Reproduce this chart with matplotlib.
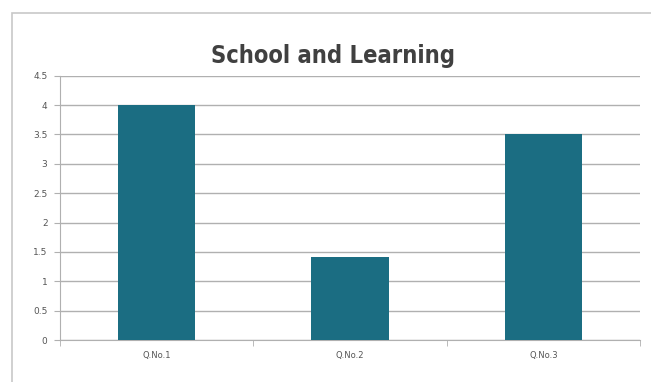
import matplotlib
matplotlib.use("Agg")
import matplotlib.pyplot as plt
from matplotlib.patches import Rectangle
from matplotlib.ticker import FixedLocator
import numpy as np

categories = ["Q.No.1", "Q.No.2", "Q.No.3"]
values = [4.0, 1.42, 3.5]
yticks = [0, 0.5, 1, 1.5, 2, 2.5, 3, 3.5, 4, 4.5]
ytick_labels = ["0", "0.5", "1", "1.5", "2", "2.5", "3", "3.5", "4", "4.5"]
title = "School and Learning"

W, H = 651, 382
fig = plt.figure(figsize=(W / 100, H / 100), dpi=100)
fig.patch.set_facecolor("white")

# outer chart border
fig.patches.append(Rectangle((12 / W, -0.1), 1.2, (H - 13) / H + 0.1,
                             transform=fig.transFigure, fill=False,
                             edgecolor="#c8c8c8", linewidth=1.2))

ax = fig.add_axes([60 / W, (H - 340) / H, (640 - 60) / W, (340 - 75.7) / H])
x = np.arange(len(categories))
ax.bar(x, values, width=0.4, color="#1b6d82", zorder=3)
ax.set_xlim(-0.5, len(categories) - 0.5)
ax.set_ylim(0, 4.5)
ax.set_yticks(yticks)
ax.set_yticklabels(ytick_labels)
ax.yaxis.grid(True, color="#b0b0b0", linewidth=1.0, zorder=0)
ax.set_axisbelow(True)

ax.xaxis.set_major_locator(FixedLocator(x))
ax.set_xticklabels(categories)
ax.xaxis.set_minor_locator(FixedLocator([-0.5, 0.5, 1.5, 2.5]))
ax.tick_params(axis="x", which="major", length=0, pad=8, labelsize=6, labelcolor="#555555")
ax.tick_params(axis="x", which="minor", length=4, color="#b0b0b0", direction="out")
ax.tick_params(axis="y", length=4, color="#b0b0b0", pad=5, labelsize=6.5, labelcolor="#555555")

for s in ["top", "right"]:
    ax.spines[s].set_visible(False)
ax.spines["left"].set_color("#b0b0b0")
ax.spines["bottom"].set_color("#b0b0b0")

fig.text(333 / W, 1 - 63 / H, title, ha="center", va="baseline",
         fontsize=17, fontweight="bold", fontstretch="condensed", color="#404040",
         family=["DejaVu Sans"])

fig.savefig("out.png", dpi=100)
